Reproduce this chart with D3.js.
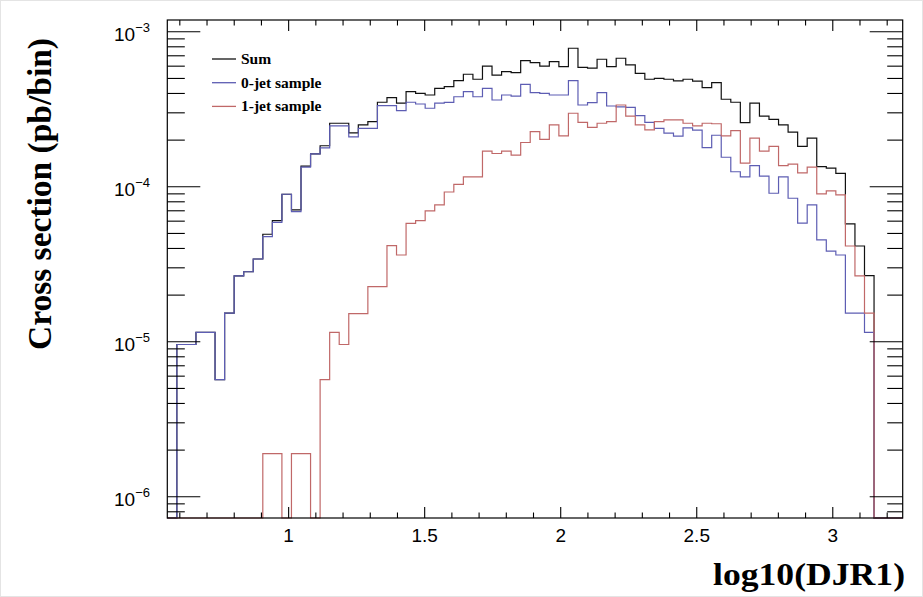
<!DOCTYPE html>
<meta charset="utf-8">
<style>
body{
  margin: 0px;
  background: white;
}
svg text{
  fill: black;
}
.tick-label{
  font-family: "Liberation Sans", Arial, sans-serif;
}
.title{
  font-family: "Liberation Serif", "Times New Roman", serif;
  font-weight: bold;
}
</style>
<body>
<div id='chart'></div>

<script src="https://cdn.jsdelivr.net/npm/d3@7"></script>
<script>

// histogram binning (log10(DJR1))
var nBins = 77,
    xLow = 0.554,
    xHigh = 3.257

var seriesNames = ['Sum', '0-jet sample', '1-jet sample']

var sumVals = [
  0, 9.6e-6, 9.6e-6, 1.15e-5, 1.15e-5, 5.7e-6, 1.53e-5, 2.66e-5, 2.83e-5, 3.42e-5,
  4.94e-5, 6.04e-5, 8.95e-5, 7.1e-5, 1.36e-4, 1.63e-4, 1.84e-4, 2.57e-4, 2.57e-4, 2.23e-4,
  2.51e-4, 2.63e-4, 3.51e-4, 3.76e-4, 3.46e-4, 4.11e-4, 4.01e-4, 3.91e-4, 4.31e-4, 4.43e-4,
  4.84e-4, 5.32e-4, 4.94e-4, 6.01e-4, 5.26e-4, 5.53e-4, 5.45e-4, 6.52e-4, 6.32e-4, 6.01e-4,
  6.41e-4, 5.96e-4, 7.83e-4, 5.90e-4, 5.82e-4, 6.65e-4, 5.96e-4, 6.75e-4, 6.11e-4, 5.39e-4,
  4.94e-4, 5.01e-4, 4.94e-4, 4.82e-4, 4.94e-4, 4.80e-4, 4.36e-4, 4.70e-4, 3.67e-4, 3.51e-4,
  2.59e-4, 3.46e-4, 2.86e-4, 2.72e-4, 2.51e-4, 2.25e-4, 1.82e-4, 2.06e-4, 1.35e-4, 1.32e-4,
  1.22e-4, 5.76e-5, 4.15e-5, 2.67e-5, 0, 0, 0
]

var jet0Vals = [
  0, 9.6e-6, 9.6e-6, 1.15e-5, 1.15e-5, 5.7e-6, 1.53e-5, 2.66e-5, 2.83e-5, 3.42e-5,
  4.77e-5, 5.9e-5, 8.95e-5, 6.91e-5, 1.34e-4, 1.63e-4, 1.78e-4, 2.47e-4, 2.47e-4, 2.10e-4,
  2.38e-4, 2.38e-4, 3.34e-4, 3.34e-4, 3.10e-4, 3.51e-4, 3.42e-4, 3.21e-4, 3.46e-4, 3.50e-4,
  3.81e-4, 4.11e-4, 3.81e-4, 4.31e-4, 3.63e-4, 3.91e-4, 3.85e-4, 4.58e-4, 4.05e-4, 4.01e-4,
  3.91e-4, 3.91e-4, 4.84e-4, 3.37e-4, 3.49e-4, 4.05e-4, 3.32e-4, 3.28e-4, 3.25e-4, 2.88e-4,
  2.60e-4, 2.38e-4, 2.22e-4, 2.12e-4, 2.40e-4, 2.32e-4, 1.79e-4, 2.15e-4, 1.55e-4, 1.25e-4,
  1.16e-4, 1.37e-4, 1.17e-4, 9.08e-5, 1.16e-4, 8.43e-5, 5.82e-5, 7.64e-5, 4.54e-5, 3.85e-5,
  3.63e-5, 1.53e-5, 1.53e-5, 1.15e-5, 0, 0, 0
]

var jet1Vals = [
  0, 0, 0, 0, 0, 0, 0, 0, 0, 0,
  1.9e-6, 1.9e-6, 0, 1.9e-6, 1.9e-6, 0, 5.7e-6, 1.15e-5, 9.6e-6, 1.52e-5,
  1.52e-5, 2.27e-5, 2.27e-5, 4.17e-5, 3.63e-5, 5.8e-5, 6.05e-5, 7.0e-5, 7.65e-5, 9.25e-5,
  1.035e-4, 1.16e-4, 1.16e-4, 1.70e-4, 1.64e-4, 1.70e-4, 1.60e-4, 1.93e-4, 2.27e-4, 2.02e-4,
  2.51e-4, 2.13e-4, 2.98e-4, 2.60e-4, 2.42e-4, 2.57e-4, 2.63e-4, 3.37e-4, 2.86e-4, 2.51e-4,
  2.33e-4, 2.63e-4, 2.70e-4, 2.70e-4, 2.57e-4, 2.47e-4, 2.57e-4, 2.55e-4, 2.13e-4, 2.30e-4,
  1.42e-4, 2.06e-4, 1.70e-4, 1.82e-4, 1.37e-4, 1.40e-4, 1.23e-4, 1.34e-4, 8.99e-5, 9.40e-5,
  8.86e-5, 4.15e-5, 2.66e-5, 1.53e-5, 0, 0, 0
]

var xTickLabels = ['1', '1.5', '2', '2.5', '3']
var yTickExps = [-3, -4, -5, -6]

var width = 923,
    height = 597,
    fLeft = 167.3, fRight = 902.7,
    fTop = 20, fBottom = 518

var svg = d3.select('#chart')
  .append('svg')
    .attr('width', width)
    .attr('height', height)

svg.append('rect')
    .attr('x', 0.5).attr('y', 0.5)
    .attr('width', width - 1).attr('height', height - 1)
    .style('fill', 'white')
    .style('stroke', '#e4e4e4')

var x = d3.scaleLinear().domain([xLow, xHigh]).range([fLeft, fRight])
var y = d3.scaleLog().domain([Math.pow(10, -6.137), Math.pow(10, -2.924)]).range([fBottom, fTop]).clamp(true)

var binW = (xHigh - xLow) / nBins

function yv(v){ return v > 0 ? y(v) : fBottom }

function histPath(vals){
  var pts = [[x(xLow), fBottom]]
  vals.forEach(function(v, i){
    pts.push([x(xLow + i * binW), yv(v)])
    pts.push([x(xLow + (i + 1) * binW), yv(v)])
  })
  pts.push([x(xHigh), fBottom])
  return d3.line()(pts)
}

var series = [
  {name: seriesNames[0], vals: sumVals, color: '#111111'},
  {name: seriesNames[1], vals: jet0Vals, color: '#5d5db3'},
  {name: seriesNames[2], vals: jet1Vals, color: '#c06868'}
]

svg.selectAll('path.hist')
    .data(series)
  .enter().append('path')
    .attr('class', 'hist')
    .attr('d', function(d){ return histPath(d.vals) })
    .style('fill', 'none')
    .style('stroke', function(d){ return d.color })
    .style('stroke-width', 1.2)

// frame
svg.append('rect')
    .attr('x', fLeft).attr('y', fTop)
    .attr('width', fRight - fLeft).attr('height', fBottom - fTop)
    .style('fill', 'none')
    .style('stroke', 'black')
    .style('stroke-width', 1.2)

// x ticks (bottom + top)
var xMajor = xTickLabels.map(Number)
var xMinor = d3.range(6, 33).map(function(d){ return d / 10 })
    .filter(function(d){ return xMajor.indexOf(d) < 0 })

var ax = svg.append('g').style('stroke', 'black').style('stroke-width', 1.1)
xMajor.forEach(function(t){
  ax.append('line').attr('x1', x(t)).attr('x2', x(t)).attr('y1', fBottom).attr('y2', fBottom - 11)
  ax.append('line').attr('x1', x(t)).attr('x2', x(t)).attr('y1', fTop).attr('y2', fTop + 11)
})
xMinor.forEach(function(t){
  ax.append('line').attr('x1', x(t)).attr('x2', x(t)).attr('y1', fBottom).attr('y2', fBottom - 5.5)
  ax.append('line').attr('x1', x(t)).attr('x2', x(t)).attr('y1', fTop).attr('y2', fTop + 5.5)
})

// y ticks (left + right)
var yMinor = []
d3.range(-7, -2).forEach(function(e){
  d3.range(2, 10).forEach(function(m){
    var v = m * Math.pow(10, e)
    if (y.domain()[0] <= v && v <= y.domain()[1]) yMinor.push(v)
  })
})
yTickExps.forEach(function(e){
  var yy = y(Math.pow(10, e))
  ax.append('line').attr('x1', fLeft).attr('x2', fLeft + 33).attr('y1', yy).attr('y2', yy)
  ax.append('line').attr('x1', fRight).attr('x2', fRight - 33).attr('y1', yy).attr('y2', yy)
})
yMinor.forEach(function(v){
  var yy = y(v)
  ax.append('line').attr('x1', fLeft).attr('x2', fLeft + 17.5).attr('y1', yy).attr('y2', yy)
  ax.append('line').attr('x1', fRight).attr('x2', fRight - 15.5).attr('y1', yy).attr('y2', yy)
})

// tick labels
svg.selectAll('text.xlab')
    .data(xTickLabels)
  .enter().append('text')
    .attr('class', 'tick-label')
    .attr('x', function(d){ return x(+d) })
    .attr('y', 542)
    .attr('text-anchor', 'middle')
    .style('font-size', '19px')
    .text(function(d){ return d })

var ylab = svg.selectAll('text.ylab')
    .data(yTickExps)
  .enter().append('text')
    .attr('class', 'tick-label')
    .attr('x', 150)
    .attr('y', function(d){ return y(Math.pow(10, d)) + 9 })
    .attr('text-anchor', 'end')
    .style('font-size', '19px')
ylab.append('tspan').text('10')
ylab.append('tspan')
    .attr('dy', -9)
    .style('font-size', '13px')
    .text(function(d){ return '\u2212' + Math.abs(d) })

// axis titles
svg.append('text')
    .attr('class', 'title')
    .attr('transform', 'translate(51,38) rotate(-90)')
    .attr('text-anchor', 'end')
    .attr('textLength', 312)
    .attr('lengthAdjust', 'spacingAndGlyphs')
    .style('font-size', '33px')
    .text('Cross section (pb/bin)')

svg.append('text')
    .attr('class', 'title')
    .attr('x', 905)
    .attr('y', 585)
    .attr('text-anchor', 'end')
    .attr('textLength', 192)
    .attr('lengthAdjust', 'spacingAndGlyphs')
    .style('font-size', '32px')
    .text('log10(DJR1)')

// legend
var leg = svg.selectAll('g.leg')
    .data(series)
  .enter().append('g')
    .attr('class', 'leg')
    .attr('transform', function(d, i){ return 'translate(0,' + (59 + i * 23.7) + ')' })
leg.append('line')
    .attr('x1', 212).attr('x2', 236)
    .style('stroke', function(d){ return d.color })
    .style('stroke-width', 1.3)
leg.append('text')
    .attr('class', 'title')
    .attr('x', 241)
    .attr('y', 5)
    .style('font-size', '15.5px')
    .text(function(d){ return d.name })

</script>
